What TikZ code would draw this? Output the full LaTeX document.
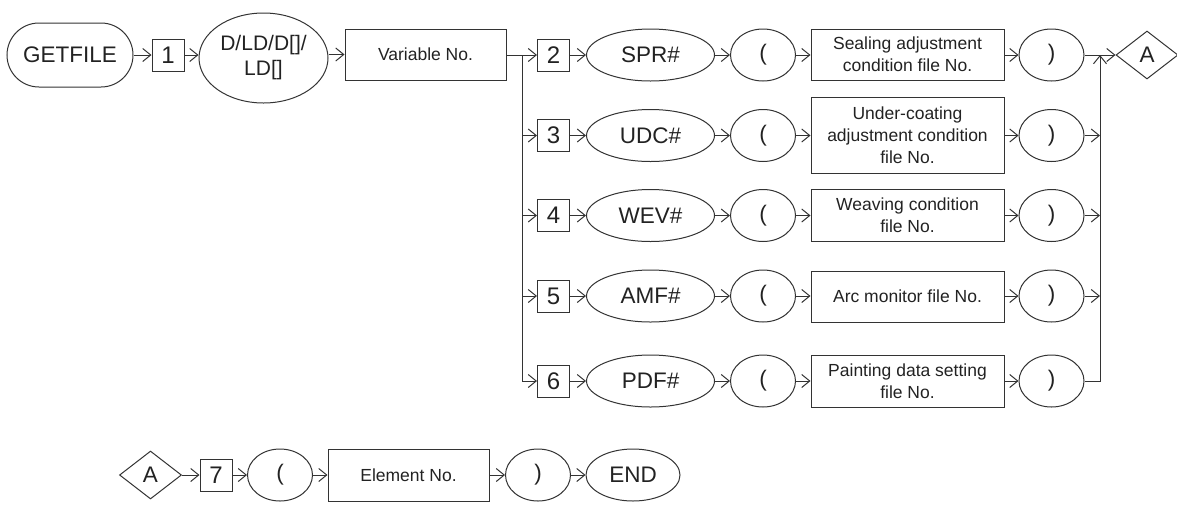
\documentclass[tikz,border=0pt]{standalone}
\usepackage{fontspec}
\setmainfont{Liberation Sans}
\usetikzlibrary{arrows.meta,shapes.geometric}
\definecolor{ln}{HTML}{333333}
\definecolor{tx}{HTML}{222222}
\tikzset{
  base/.style={draw=ln,line width=1pt,text=tx,inner sep=0pt,align=center},
  big/.style={font=\fontsize{22.5}{26}\selectfont},
  small/.style={font=\fontsize{17.5}{22}\selectfont},
  numbox/.style={base,rectangle,minimum width=32pt,minimum height=32pt,font=\fontsize{24}{28}\selectfont},
  oval/.style={base,ellipse,big,minimum height=52pt},
  keyoval/.style={oval,minimum width=128pt},
  paren/.style={oval,minimum width=65pt},
  txtbox/.style={base,rectangle,small,minimum width=193pt},
  dia/.style={base,diamond,big,minimum width=62pt,minimum height=48pt,aspect=1.3},
  arr/.style={draw=ln,line width=1pt,-{Straight Barb[length=8pt,width=13pt,line width=1pt]}},
  ln/.style={draw=ln,line width=1pt}
}
\begin{document}
\begin{tikzpicture}[x=1pt,y=-1pt]
\useasboundingbox (0,0) rectangle (1177,504);
% top row
\node[base,big,rectangle,rounded corners=32pt,minimum width=126pt,minimum height=64pt] (gf) at (70,55) {GETFILE};
\node[numbox] (b1) at (168,55) {1};
\node[base,ellipse,font=\fontsize{21}{25}\selectfont,minimum width=129pt,minimum height=90pt] (dld) at (263.5,58) {D/LD/D[]/\\LD[]};
\node[base,rectangle,small,minimum width=161pt,minimum height=51pt] (var) at (425.5,54.5) {Variable No.};
\coordinate (jl) at (522,55);
\coordinate (jr) at (1100,55);
% row 1
\node[numbox] (b2) at (553.5,55) {2};
\node[keyoval] (k2) at (650.5,55) {SPR\#};
\node[paren] (l2) at (763,55) {(};
\node[txtbox,minimum height=51pt] (t2) at (907.5,54.5) {Sealing adjustment\\condition file No.};
\node[paren] (r2) at (1051.5,55) {)};
\node[dia] (a1) at (1147,55) {A};
% row 2
\node[numbox] (b3) at (553.5,135.5) {3};
\node[keyoval] (k3) at (650.5,135.5) {UDC\#};
\node[paren] (l3) at (763,135.5) {(};
\node[txtbox,minimum height=76pt] (t3) at (907.5,135.5) {Under-coating\\adjustment condition\\file No.};
\node[paren] (r3) at (1051.5,135.5) {)};
% row 3
\node[numbox] (b4) at (553.5,215.5) {4};
\node[keyoval] (k4) at (650.5,215.5) {WEV\#};
\node[paren] (l4) at (763,215.5) {(};
\node[txtbox,minimum height=52pt] (t4) at (907.5,215) {Weaving condition\\file No.};
\node[paren] (r4) at (1051.5,215.5) {)};
% row 4
\node[numbox] (b5) at (553.5,296) {5};
\node[keyoval] (k5) at (650.5,296) {AMF\#};
\node[paren] (l5) at (763,296) {(};
\node[txtbox,minimum height=51pt] (t5) at (907.5,296.5) {Arc monitor file No.};
\node[paren] (r5) at (1051.5,296) {)};
% row 5
\node[numbox] (b6) at (553.5,381) {6};
\node[keyoval] (k6) at (650.5,381) {PDF\#};
\node[paren] (l6) at (763,381) {(};
\node[txtbox,minimum height=52pt] (t6) at (907.5,381) {Painting data setting\\file No.};
\node[paren] (r6) at (1051.5,381) {)};
% bottom row
\node[dia] (a2) at (150.5,475) {A};
\node[numbox] (b7) at (216,475) {7};
\node[paren] (l7) at (280,475) {(};
\node[base,rectangle,small,minimum width=161pt,minimum height=52pt] (el) at (408.5,475) {Element No.};
\node[paren] (r7) at (538,475) {)};
\node[oval,minimum width=94pt] (en) at (633,475) {END};
% connectors top
\draw[arr] (gf.east) -- (b1.west);
\draw[arr] (b1.east) -- (b1.east -| dld.west);
\draw[arr] (dld.east |- var.west) -- (var.west);
\draw[arr] (var.east |- b2.west) -- (b2.west);
\draw[arr] (jl) |- (b6.west);
\draw[arr] (b3.west -| jl) -- (b3.west);
\draw[arr] (b4.west -| jl) -- (b4.west);
\draw[arr] (b5.west -| jl) -- (b5.west);
\foreach \r in {2,3,4,5,6}{
  \draw[arr] (b\r.east) -- (k\r.west);
  \draw[arr] (k\r.east) -- (l\r.west);
  \draw[arr] (l\r.east) -- (l\r.east -| t\r.west);
  \draw[arr] (t\r.east |- r\r.west) -- (r\r.west);
}
\draw[arr] (r2.east) -- (a1.west);
\draw[arr] (r6.east) -| (jr);
\draw[arr] (r3.east) -- (r3.east -| jr);
\draw[arr] (r4.east) -- (r4.east -| jr);
\draw[arr] (r5.east) -- (r5.east -| jr);
% bottom connectors
\draw[arr] (a2.east) -- (b7.west);
\draw[arr] (b7.east) -- (l7.west);
\draw[arr] (l7.east) -- (el.west);
\draw[arr] (el.east) -- (r7.west);
\draw[arr] (r7.east) -- (en.west);
\end{tikzpicture}
\end{document}
